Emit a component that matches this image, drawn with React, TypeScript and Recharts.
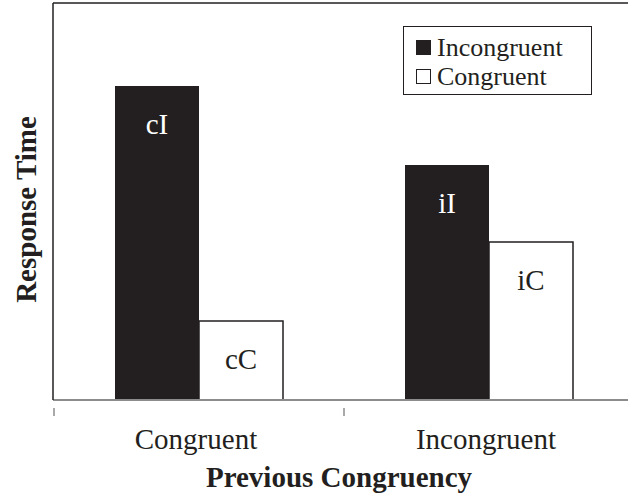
import React from 'react';
import { BarChart, Bar, XAxis, YAxis, Legend, LabelList, Label, ReferenceLine } from 'recharts';

const categories = ['Congruent', 'Incongruent'];
const incongruentRT = [79.1, 59.2];
const congruentRT = [19.9, 39.8];
const incongruentTags = ['cI', 'iI'];
const congruentTags = ['cC', 'iC'];

const data = categories.map((name, i) => ({
  name,
  incongruent: incongruentRT[i],
  congruent: congruentRT[i],
  incTag: incongruentTags[i],
  conTag: congruentTags[i],
}));

const FONT = '"Liberation Serif", "Times New Roman", serif';
const FS = 29;
const INK = '#231f20';
const AXIS_GRAY = '#8c8c8c';

// category axis: tick marks sit on the band edges, labels in the middle
const CategoryTick = (props: any) => {
  const { x, y, payload } = props;
  const half = payload && payload.offset ? payload.offset : 145;
  return (
    <g>
      <line x1={x - half} y1={y} x2={x - half} y2={y + 8} stroke={AXIS_GRAY} strokeWidth={1.5} />
      <text x={x - 3} y={y + 41} textAnchor="middle" fontFamily={FONT} fontSize={FS} fill={INK}>
        {payload.value}
      </text>
    </g>
  );
};

const barTag = (color: string) => (props: any) => {
  const { x, y, width, value } = props;
  return (
    <text x={x + width / 2} y={y + 48} textAnchor="middle" fontFamily={FONT} fontSize={FS} fill={color}>
      {value}
    </text>
  );
};

const LegendBox = () => (
  <div
    style={{
      border: `1.5px solid ${INK}`,
      width: 187,
      height: 61,
      boxSizing: 'content-box',
      fontFamily: FONT,
      fontSize: 26,
      color: INK,
      lineHeight: '29px',
      paddingTop: 6,
    }}
  >
    <div style={{ display: 'flex', alignItems: 'center', paddingLeft: 12, height: 29 }}>
      <span style={{ display: 'inline-block', width: 15, height: 15, background: INK, marginRight: 6 }} />
      <span>Incongruent</span>
    </div>
    <div style={{ display: 'flex', alignItems: 'center', paddingLeft: 12, height: 29 }}>
      <span
        style={{ display: 'inline-block', width: 13, height: 13, border: `1px solid ${INK}`, background: '#fff', marginRight: 6 }}
      />
      <span>Congruent</span>
    </div>
  </div>
);

export default function App() {
  return (
    <div style={{ position: 'absolute', left: 0, top: 0, background: '#fff' }}>
      <BarChart
        width={628}
        height={497}
        data={data}
        margin={{ top: 3, right: 0, left: 0, bottom: 5 }}
        barGap={0}
      >
        <XAxis
          dataKey="name"
          height={92}
          padding={{ left: 1, right: -6 }}
          axisLine={{ stroke: AXIS_GRAY, strokeWidth: 2 }}
          tickLine={false}
          tick={<CategoryTick />}
          interval={0}
        >
          <Label
            content={(p: any) => {
              const vb = p.viewBox;
              return (
                <text x={339} y={vb.y + 87} textAnchor="middle" fontFamily={FONT} fontSize={FS} fontWeight="bold" fill={INK}>
                  Previous Congruency
                </text>
              );
            }}
          />
        </XAxis>
        <YAxis
          width={53}
          domain={[0, 100]}
          tick={false}
          tickLine={false}
          axisLine={{ stroke: INK, strokeWidth: 1.5 }}
        >
          <Label
            content={(p: any) => {
              const vb = p.viewBox;
              const cx = vb.x + 26;
              const cy = vb.y + vb.height / 2 + 8;
              return (
                <text x={cx} y={cy} transform={`rotate(-90, ${cx}, ${cy})`} textAnchor="middle" dominantBaseline="central" fontFamily={FONT} fontSize={FS} fontWeight="bold" fill={INK}>
                  Response Time
                </text>
              );
            }}
          />
        </YAxis>
        <ReferenceLine y={100} stroke={INK} strokeWidth={1.5} />
        <Legend
          layout="vertical"
          align="center"
          verticalAlign="middle"
          content={<LegendBox />}
          wrapperStyle={{ position: 'absolute', top: 26, left: 403, width: 190, height: 72 }}
        />
        <Bar dataKey="incongruent" name="Incongruent" fill={INK} barSize={84} isAnimationActive={false}>
          <LabelList dataKey="incTag" content={barTag('#ffffff')} />
        </Bar>
        <Bar dataKey="congruent" name="Congruent" fill="#ffffff" stroke={INK} strokeWidth={1.5} barSize={84} isAnimationActive={false}>
          <LabelList dataKey="conTag" content={barTag(INK)} />
        </Bar>
      </BarChart>
    </div>
  );
}
